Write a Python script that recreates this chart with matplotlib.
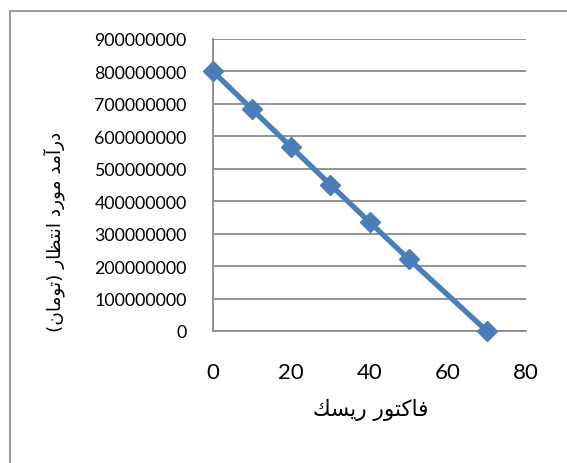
import matplotlib
matplotlib.use("Agg")
import matplotlib.pyplot as plt
from matplotlib.patches import Rectangle

# ---- data ----
risk_factor = [0, 10, 20, 30, 40, 50, 70]
expected_income = [800000000, 683000000, 567000000, 451000000, 336000000, 222000000, 0]
x_ticks = [0, 20, 40, 60, 80]
y_ticks = [0, 100000000, 200000000, 300000000, 400000000, 500000000,
           600000000, 700000000, 800000000, 900000000]
x_label = "فاكتور ريسك"
y_label = "درآمد مورد انتظار (تومان)"

# ---- minimal Arabic shaping (presentation forms + visual order) ----
DUAL = {
    "ف": (0xFED1, 0xFED2, 0xFED3, 0xFED4),
    "ك": (0xFED9, 0xFEDA, 0xFEDB, 0xFEDC),
    "ت": (0xFE95, 0xFE96, 0xFE97, 0xFE98),
    "ي": (0xFEF1, 0xFEF2, 0xFEF3, 0xFEF4),
    "س": (0xFEB1, 0xFEB2, 0xFEB3, 0xFEB4),
    "م": (0xFEE1, 0xFEE2, 0xFEE3, 0xFEE4),
    "ن": (0xFEE5, 0xFEE6, 0xFEE7, 0xFEE8),
    "ظ": (0xFEC5, 0xFEC6, 0xFEC7, 0xFEC8),
}
RIGHT = {
    "ا": (0xFE8D, 0xFE8E),
    "آ": (0xFE81, 0xFE82),
    "د": (0xFEA9, 0xFEAA),
    "ر": (0xFEAD, 0xFEAE),
    "و": (0xFEED, 0xFEEE),
}


def shape(s):
    out = []
    n = len(s)
    for i, c in enumerate(s):
        if c not in DUAL and c not in RIGHT:
            out.append(c)
            continue
        prev_c = s[i - 1] if i > 0 else ""
        next_c = s[i + 1] if i < n - 1 else ""
        jp = prev_c in DUAL
        jn = c in DUAL and (next_c in DUAL or next_c in RIGHT)
        if c in RIGHT:
            f = RIGHT[c]
            out.append(chr(f[1] if jp else f[0]))
        else:
            f = DUAL[c]
            if jp and jn:
                out.append(chr(f[3]))
            elif jp:
                out.append(chr(f[1]))
            elif jn:
                out.append(chr(f[2]))
            else:
                out.append(chr(f[0]))
    vis = "".join(reversed(out))
    vis = vis.translate(str.maketrans({"(": ")", ")": "("}))
    return vis


W, H = 567, 464
fig = plt.figure(figsize=(W / 100, H / 100), dpi=100)
fig.patch.set_facecolor("white")

# outer chart frame (extends beyond right/bottom edges)
fig.patches.append(Rectangle((10 / W, -0.1), 1.2, 1 - 12 / H + 0.1,
                             transform=fig.transFigure, fill=False,
                             edgecolor="#8c8c8c", linewidth=1.2))

ax = fig.add_axes([213 / W, 1 - 332 / H, (526 - 213) / W, (332 - 40) / H])
ax.set_xlim(0, 80)
ax.set_ylim(0, 900000000)
ax.set_xticks(x_ticks)
ax.set_yticks(y_ticks)
ax.set_xticklabels([str(v) for v in x_ticks], fontsize=16, fontfamily="Lato")
ax.set_yticklabels([str(v) for v in y_ticks], fontsize=12.8, fontfamily="Lato")
ax.tick_params(axis="both", length=0)
ax.tick_params(axis="y", pad=19)
ax.tick_params(axis="x", pad=22)

ax.grid(axis="y", color="#8a8a8a", linewidth=1.3)
ax.set_axisbelow(True)
for sp in ["top", "right"]:
    ax.spines[sp].set_visible(False)
ax.spines["left"].set_color("#8a8a8a")
ax.spines["left"].set_linewidth(1.3)
ax.spines["bottom"].set_color("#8a8a8a")
ax.spines["bottom"].set_linewidth(1.3)

ax.plot(risk_factor, expected_income, color="#4a7ebb", linewidth=3.8,
        marker="D", markersize=10.5, markerfacecolor="#4a7ebb",
        markeredgecolor="#4a7ebb", clip_on=False, zorder=5)

fig.text(371 / W, 1 - 410 / H, shape(x_label), ha="center",
         va="center", fontsize=15.5, fontfamily="DejaVu Sans")
fig.text(54 / W, 1 - 232 / H, shape(y_label), ha="center", va="center",
         rotation=90, fontsize=13.3, fontfamily="DejaVu Sans")

fig.savefig("out.png", dpi=100)
